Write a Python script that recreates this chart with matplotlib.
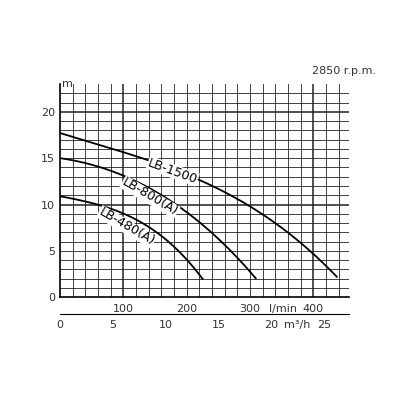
import numpy as np
import matplotlib.pyplot as plt

q_1500 = [0, 97, 184, 242, 295, 358, 400, 437]
h_1500 = [17.6, 16.1, 13.4, 11.7, 10.1, 7.3, 4.75, 2.05]
q_800 = [0, 97, 158, 200, 253, 284, 309]
h_800 = [15.0, 13.2, 11.2, 9.0, 6.2, 4.0, 2.0]
q_480 = [0, 97, 147, 195, 225]
h_480 = [10.9, 9.1, 7.3, 4.4, 2.0]
lmin_ticks = [100, 200, 300, 400]
m3h_ticks = [0, 5, 10, 15, 20, 25]

fig = plt.figure(figsize=(4, 4), dpi=100)
ax = fig.add_axes([0.15, 0.257, 0.722, 0.533])
xmax, ymax = 456, 23

for x in np.arange(20, xmax, 20):
    bold = x in (100, 400)
    ax.axvline(x, color='#222', lw=1.1 if bold else 0.6, zorder=1)
for y in range(1, ymax):
    bold = y in (10, 20)
    ax.axhline(y, color='#222', lw=1.1 if bold else 0.6, zorder=1)

def smooth(q, h):
    qs = np.linspace(q[0], q[-1], 200)
    c = np.polyfit(q, h, 3)
    return qs, np.polyval(c, qs)

for q, h in [(q_1500, h_1500), (q_800, h_800), (q_480, h_480)]:
    ax.plot(*smooth(q, h), color='black', lw=1.3, zorder=3)

kw = dict(fontsize=9, color='black', zorder=4, ha='center', va='center',
          bbox=dict(fc='white', ec='none', pad=0.3))
ax.text(178, 13.6, 'LB-1500', rotation=-20, **kw)
ax.text(142, 10.8, 'LB-800(A)', rotation=-30, **kw)
ax.text(105, 7.6, 'LB-480(A)', rotation=-30, **kw)

ax.set_xlim(0, xmax)
ax.set_ylim(0, ymax)
ax.set_xticks([])
ax.set_yticks([0, 5, 10, 15, 20])
ax.tick_params(axis='y', length=0, labelsize=8, colors='#333')
for s in ['top', 'right']:
    ax.spines[s].set_visible(False)
ax.spines['left'].set_linewidth(1.2)
ax.spines['bottom'].set_linewidth(1.2)

for t in lmin_ticks:
    ax.text(t, -1.3, str(t), ha='center', va='center', fontsize=8, color='#333')
ax.text(352, -1.3, 'l/min', ha='center', va='center', fontsize=8, color='#333')

ax2 = fig.add_axes([0.15, 0.215, 0.722, 0.001])
ax2.set_xlim(0, xmax)
ax2.set_yticks([])
for s in ['top', 'right', 'left']:
    ax2.spines[s].set_visible(False)
ax2.set_xticks([t * 1000 / 60 for t in m3h_ticks])
ax2.set_xticklabels([str(t) for t in m3h_ticks])
ax2.tick_params(axis='x', length=0, labelsize=8, colors='#333', pad=4)
ax2.annotate('m³/h', xy=(22.5 * 1000 / 60, 0), xycoords=('data', 'axes fraction'),
             xytext=(0, -4), textcoords='offset points', ha='center', va='top',
             fontsize=8, color='#333')

fig.text(0.94, 0.815, '2850 r.p.m.', ha='right', fontsize=8, color='#333')
fig.text(0.155, 0.79, 'm', ha='left', va='center', fontsize=8, color='#333')
fig.savefig('out.png')
